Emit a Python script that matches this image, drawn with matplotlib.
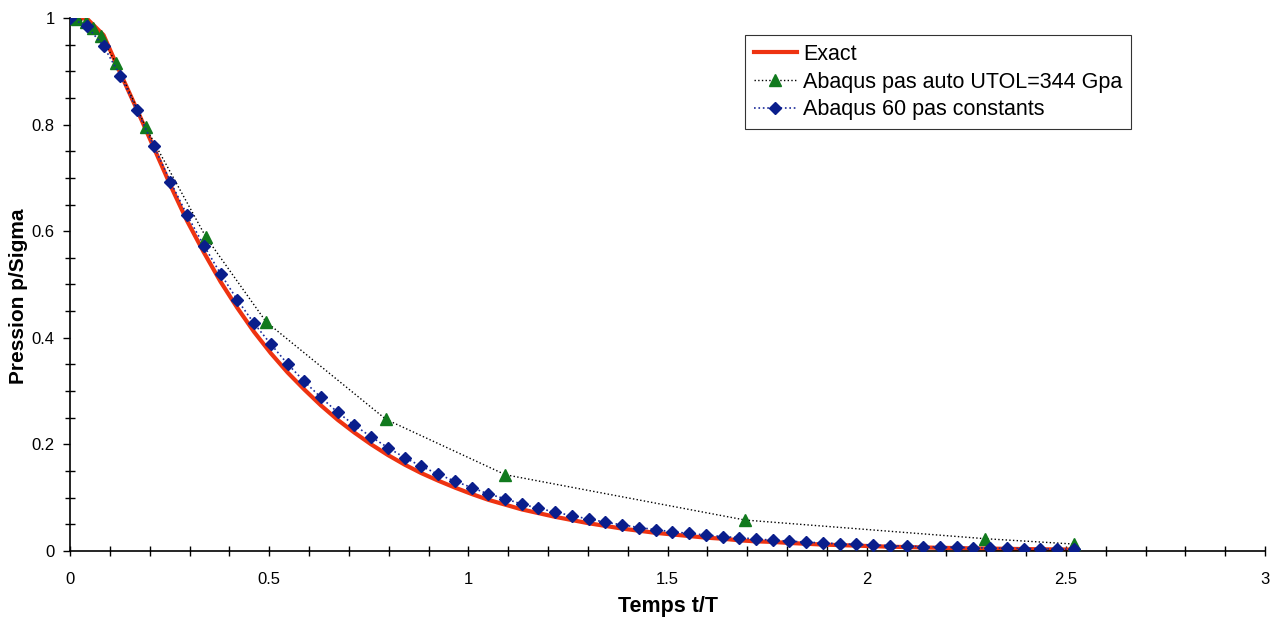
import numpy as np
import matplotlib.pyplot as plt
from matplotlib.ticker import MultipleLocator

plt.rcParams['font.family'] = ['Liberation Sans', 'DejaVu Sans']

# Exact et Abaqus 60 pas constants (pas de 0.042)
t_const = np.round(np.arange(61) * 0.042, 3)

p_exact = [1.0, 0.999, 0.968, 0.897, 0.828, 0.757, 0.686, 0.619, 0.560, 0.505,
           0.456, 0.411, 0.371, 0.335, 0.303, 0.273, 0.246, 0.222, 0.200, 0.180,
           0.162, 0.146, 0.132, 0.119, 0.107, 0.096, 0.087, 0.078, 0.071, 0.064,
           0.058, 0.052, 0.047, 0.042, 0.038, 0.034, 0.031, 0.028, 0.025, 0.023,
           0.020, 0.018, 0.017, 0.015, 0.0135, 0.012, 0.011, 0.010, 0.009, 0.008,
           0.0073, 0.0066, 0.006, 0.0054, 0.0048, 0.0044, 0.004, 0.0036, 0.0032, 0.0029,
           0.0026]

p_const = [1.0, 0.985, 0.947, 0.892, 0.827, 0.760, 0.693, 0.630, 0.573, 0.520,
           0.471, 0.427, 0.388, 0.351, 0.318, 0.288, 0.260, 0.236, 0.214, 0.194,
           0.175, 0.159, 0.144, 0.131, 0.119, 0.107, 0.098, 0.088, 0.080, 0.073,
           0.066, 0.060, 0.054, 0.049, 0.044, 0.040, 0.036, 0.033, 0.030, 0.027,
           0.025, 0.0225, 0.0203, 0.0184, 0.0167, 0.015, 0.0136, 0.0123, 0.0111, 0.010,
           0.009, 0.0082, 0.0074, 0.0067, 0.006, 0.0055, 0.005, 0.0045, 0.004, 0.0036,
           0.0033]

# Abaqus pas automatique
t_auto = [0, 0.018, 0.04, 0.058, 0.077, 0.115, 0.19, 0.341, 0.492, 0.793,
          1.093, 1.695, 2.298, 2.52]
p_auto = [1.0, 0.998, 0.993, 0.982, 0.966, 0.916, 0.795, 0.589, 0.430, 0.247,
          0.143, 0.058, 0.023, 0.013]

fig = plt.figure(figsize=(12.76, 6.19), dpi=100)
ax = fig.add_axes([0.0549, 0.1099, 0.9365, 0.8611])

ax.plot(t_const, p_exact, color='#EE3311', lw=3, label='Exact', zorder=2)
ax.plot(t_auto, p_auto, color='black', ls=':', lw=1, marker='^', ms=8,
        mfc='#117A1E', mec='#117A1E', label='Abaqus pas auto UTOL=344 Gpa', zorder=3)
ax.plot(t_const, p_const, color='#1A2A9A', ls=':', lw=1.2, marker='D', ms=6.5,
        mfc='#0A1E8C', mec='#0A1E8C', label='Abaqus 60 pas constants', zorder=4)

ax.set_xlim(0, 3)
ax.set_ylim(0, 1)
ax.xaxis.set_minor_locator(MultipleLocator(0.1))
ax.yaxis.set_minor_locator(MultipleLocator(0.05))
ax.set_xticks([0, 0.5, 1, 1.5, 2, 2.5, 3])
ax.set_xticklabels(['0', '0.5', '1', '1.5', '2', '2.5', '3'])
ax.set_yticks([0, 0.2, 0.4, 0.6, 0.8, 1])
ax.set_yticklabels(['0', '0.2', '0.4', '0.6', '0.8', '1'])

ax.tick_params(axis='x', which='both', direction='inout', length=7, width=1, labelsize=12, pad=12)
ax.tick_params(axis='y', which='major', direction='out', length=5, width=1, labelsize=12, pad=6)
ax.tick_params(axis='y', which='minor', direction='inout', length=7, width=1)

for s in ['top', 'right']:
    ax.spines[s].set_visible(False)
for s in ['left', 'bottom']:
    ax.spines[s].set_linewidth(1.2)

ax.set_xlabel('Temps t/T', fontsize=15.5, fontweight='bold', labelpad=6)
ax.set_ylabel('Pression p/Sigma', fontsize=15, fontweight='bold', va='center')
ax.yaxis.set_label_coords(-0.0435, 0.478)

leg = ax.legend(loc='upper left', bbox_to_anchor=(0.565, 0.968), borderaxespad=0,
                fontsize=15.5, frameon=True, fancybox=False, handlelength=2.0,
                handletextpad=0.3, labelspacing=0.32, borderpad=0.4)
leg.get_frame().set_edgecolor('black')
leg.get_frame().set_linewidth(0.8)

plt.savefig('out.png', dpi=100)
